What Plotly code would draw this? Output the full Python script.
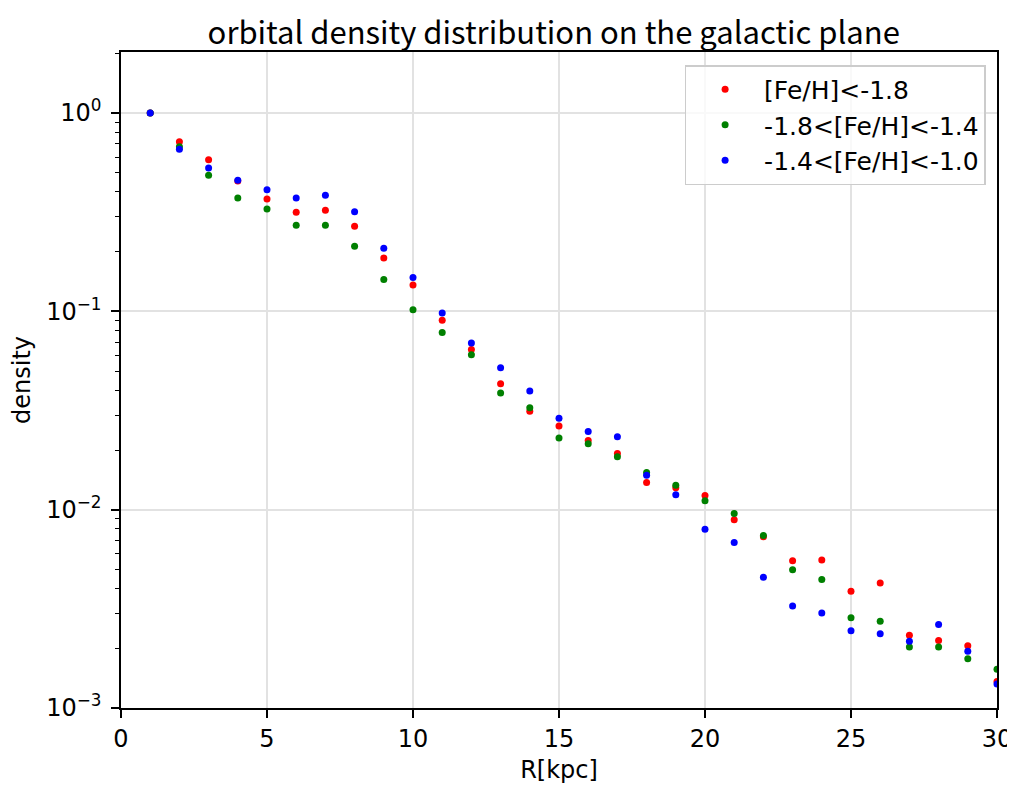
import plotly.graph_objects as go

R_kpc = list(range(1, 31))
labels = ["[Fe/H]<-1.8", "-1.8<[Fe/H]<-1.4", "-1.4<[Fe/H]<-1.0"]
colors = ["#ff0000", "#008000", "#0000ff"]

dens_low = [1.0, 0.716, 0.581, 0.455, 0.369, 0.316, 0.324, 0.269, 0.186, 0.136,
            0.0901, 0.0643, 0.0431, 0.0314, 0.0264, 0.0223, 0.0192, 0.0137, 0.0129, 0.0118,
            0.0089, 0.0073, 0.00552, 0.00558, 0.00388, 0.00427, 0.00233, 0.00219, 0.00206, 0.00136]
dens_mid = [1.0, 0.676, 0.486, 0.373, 0.328, 0.272, 0.272, 0.213, 0.145, 0.102,
            0.0783, 0.0604, 0.0388, 0.0327, 0.0230, 0.0215, 0.0185, 0.0154, 0.0133, 0.0111,
            0.00958, 0.00742, 0.00498, 0.00445, 0.00285, 0.00274, 0.00203, 0.00203, 0.00177, 0.00157]
dens_high = [1.0, 0.658, 0.529, 0.459, 0.410, 0.373, 0.385, 0.318, 0.208, 0.148,
             0.0981, 0.0692, 0.0519, 0.0397, 0.0289, 0.0248, 0.0233, 0.0149, 0.0119, 0.00796,
             0.00684, 0.00457, 0.00327, 0.00301, 0.00245, 0.00237, 0.00217, 0.00264, 0.00193, 0.00132]

x_ticks = [0, 5, 10, 15, 20, 25, 30]
y_ticks = [1e-3, 1e-2, 1e-1, 1e0]
y_ticktext = ["10<sup>\u22123</sup>", "10<sup>\u22122</sup>", "10<sup>\u22121</sup>", "10<sup>0</sup>"]
y_minor = [m * 10.0 ** e for e in (-3, -2, -1, 0) for m in range(2, 10)]

fig = go.Figure()
for ys, name, c in zip([dens_low, dens_mid, dens_high], labels, colors):
    fig.add_trace(go.Scatter(x=R_kpc, y=ys, mode="markers", name=name,
                             marker=dict(color=c, size=7, line=dict(width=0)),
                             cliponaxis=True))

font_main = "DejaVu Sans"
fig.update_layout(
    width=1007, height=777,
    margin=dict(l=113, r=18, t=44, b=77, autoexpand=False),
    paper_bgcolor="white", plot_bgcolor="white",
    font=dict(family=font_main, size=24, color="black"),
    title=dict(text="orbital density distribution on the galactic plane",
               font=dict(family="Noto Sans CJK JP", size=31, color="black"),
               x=0.494, xref="paper", xanchor="center",
               y=1, yref="paper", yanchor="bottom", pad=dict(b=8)),
    showlegend=True,
    legend=dict(x=0.987, y=0.98, xanchor="right", yanchor="top",
                bgcolor="rgba(255,255,255,0.8)", bordercolor="#cccccc", borderwidth=1.5,
                font=dict(family=font_main, size=25),
                itemwidth=68, tracegroupgap=0),
)
fig.update_xaxes(range=[0, 30], tickvals=x_ticks, ticks="outside", ticklen=8, tickwidth=1.5,
                 tickcolor="black", showline=True, linecolor="black", linewidth=1.5, mirror=True,
                 showgrid=True, gridcolor="#e2e2e2", gridwidth=1.5, zeroline=False,
                 tickfont=dict(size=24), ticklabelstandoff=0, automargin=False,
                 title=dict(text="R[kpc]", font=dict(size=24), standoff=10))
fig.update_yaxes(type="log", range=[-3, 0.308], tickvals=y_ticks, ticktext=y_ticktext,
                 ticks="outside", ticklen=8, tickwidth=1.5, tickcolor="black",
                 showline=True, linecolor="black", linewidth=1.5, mirror=True,
                 showgrid=True, gridcolor="#e2e2e2", gridwidth=1.5, zeroline=False,
                 tickfont=dict(size=24), ticklabelstandoff=5, automargin=False,
                 minor=dict(tickvals=y_minor, ticks="outside", ticklen=4, tickwidth=1.2,
                            tickcolor="black", showgrid=False),
                 title=dict(text="density", font=dict(size=24), standoff=12))

fig.write_html("out.html")
